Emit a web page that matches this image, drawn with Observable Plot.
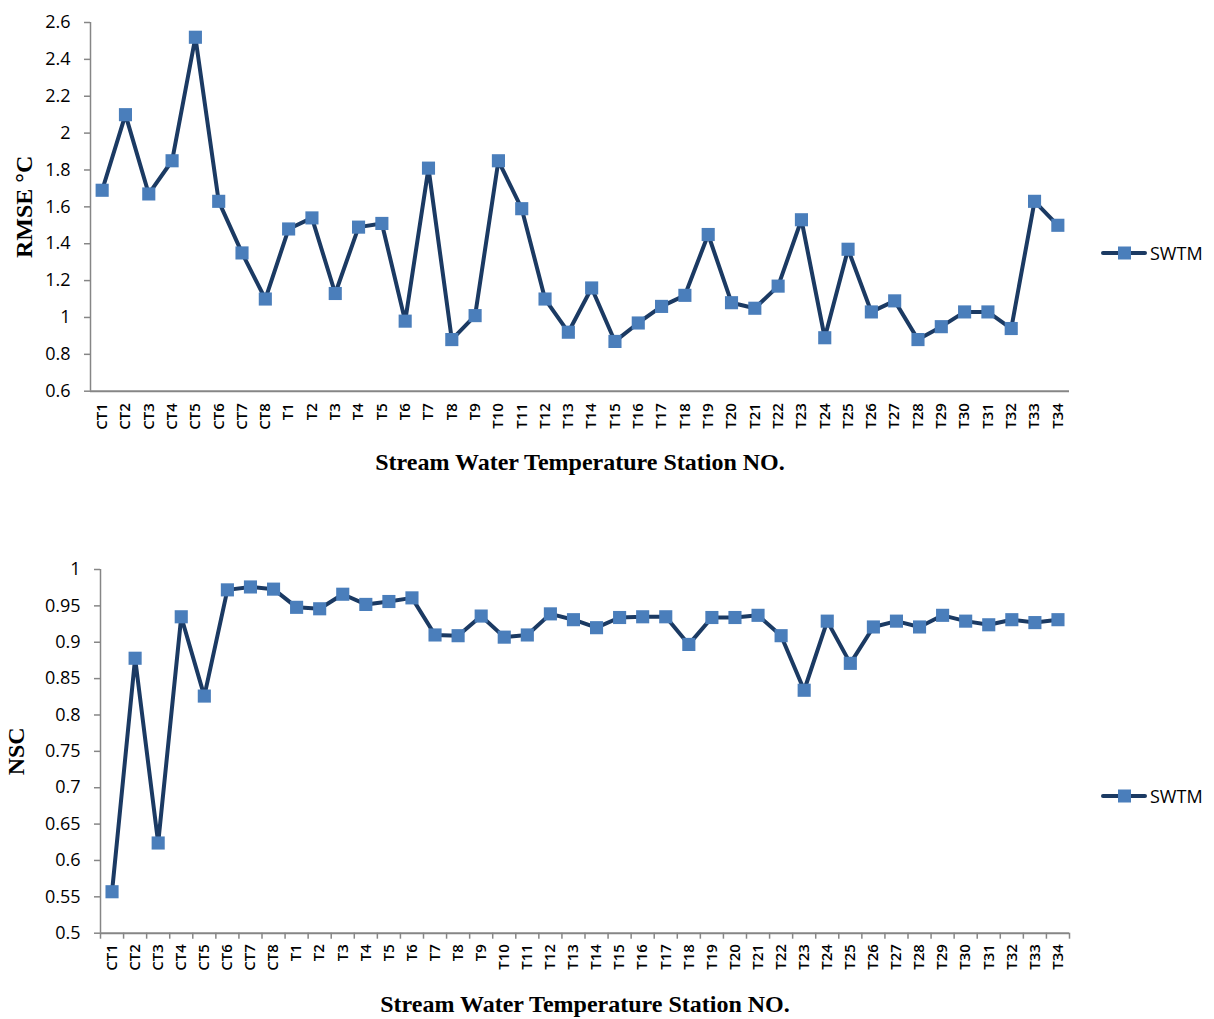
<!DOCTYPE html>
<html>
<head>
<meta charset="utf-8">
<script src="https://cdn.jsdelivr.net/npm/d3@7"></script>
<script src="https://cdn.jsdelivr.net/npm/@observablehq/plot@0.6"></script>
<style>
  body { margin: 0; background: #fff; }
  #fig { position: relative; width: 1214px; height: 1019px; background: #fff; }
  #fig > svg { position: absolute; left: 0; }
  .legend { position: absolute; left: 1101px; display: flex; align-items: center;
            font-family: "Open Sans", sans-serif; font-size: 18px; color: #000; }
  .legend span { margin-left: 3px; }
</style>
</head>
<body>
<div id="fig"></div>
<script>
// Station names along the x axis
const stations = ["CT1", "CT2", "CT3", "CT4", "CT5", "CT6", "CT7", "CT8",
  "T1", "T2", "T3", "T4", "T5", "T6", "T7", "T8", "T9", "T10",
  "T11", "T12", "T13", "T14", "T15", "T16", "T17", "T18", "T19", "T20",
  "T21", "T22", "T23", "T24", "T25", "T26", "T27", "T28", "T29", "T30",
  "T31", "T32", "T33", "T34"];

// Root mean square error (°C) of the SWTM model per station
const rmse = [1.69, 2.10, 1.67, 1.85, 2.52, 1.63, 1.35, 1.10,
  1.48, 1.54, 1.13, 1.49, 1.51, 0.98, 1.81, 0.88, 1.01, 1.85,
  1.59, 1.10, 0.92, 1.16, 0.87, 0.97, 1.06, 1.12, 1.45, 1.08,
  1.05, 1.17, 1.53, 0.89, 1.37, 1.03, 1.09, 0.88, 0.95, 1.03,
  1.03, 0.94, 1.63, 1.50];

// Nash–Sutcliffe coefficient of the SWTM model per station
const nsc = [0.557, 0.878, 0.624, 0.935, 0.826, 0.972, 0.976, 0.973,
  0.948, 0.946, 0.966, 0.952, 0.956, 0.961, 0.910, 0.909, 0.936, 0.907,
  0.910, 0.939, 0.931, 0.920, 0.934, 0.935, 0.935, 0.897, 0.934, 0.934,
  0.937, 0.909, 0.834, 0.929, 0.871, 0.921, 0.929, 0.921, 0.937, 0.929,
  0.924, 0.931, 0.927, 0.931];

// y tick values
const rmseTicks = [0.6, 0.8, 1, 1.2, 1.4, 1.6, 1.8, 2, 2.2, 2.4, 2.6];
const nscTicks = [0.5, 0.55, 0.6, 0.65, 0.7, 0.75, 0.8, 0.85, 0.9, 0.95, 1];

const seriesName = "SWTM";
const xTitle = "Stream Water Temperature Station NO.";

const LINE = "#1B3A63";
const MARK = "#4A7EBB";
const AXIS = "#868686";
const SANS = "'Open Sans', sans-serif";
const SERIF = "'Liberation Serif', 'Times New Roman', serif";

const idx = d3.range(stations.length);
const xDomain = [-0.5, stations.length - 0.5];
const boundaries = d3.range(stations.length + 1).map(i => i - 0.5);
const fmt = d => String(+d.toFixed(2));

function chart({values, yDomain, yTicks, yTitle, height, marginLeft, marginTop, marginBottom, boundaryTicks, yTitleDx}) {
  return Plot.plot({
    width: 1214,
    height,
    marginLeft,
    marginRight: 145,
    marginTop,
    marginBottom,
    style: {fontFamily: SANS, color: "#000", background: "#fff", overflow: "visible"},
    x: {domain: xDomain},
    y: {domain: yDomain},
    marks: [
      Plot.axisY({ticks: yTicks, tickFormat: fmt, tickSize: 6, tickPadding: 14,
        fontSize: 18, stroke: AXIS, strokeWidth: 1.5, label: null}),
      Plot.axisX({ticks: idx, tickFormat: i => stations[i], tickSize: 0, tickRotate: -90,
        tickPadding: boundaryTicks ? 11 : 12, fontSize: 15, fontWeight: 600, label: null}),
      boundaryTicks
        ? Plot.axisX({ticks: boundaries, tickFormat: () => "", tickSize: 6,
            stroke: AXIS, strokeWidth: 1.5, label: null})
        : null,
      Plot.ruleX([xDomain[0]], {stroke: AXIS, strokeWidth: 1.5}),
      Plot.ruleY([yDomain[0]], {stroke: AXIS, strokeWidth: 2}),
      Plot.text([yTitle], {frameAnchor: "left", rotate: -90, dx: yTitleDx,
        textAnchor: "middle", lineAnchor: "middle",
        fontSize: 24, fontWeight: "bold", fontFamily: SERIF, fill: "#000"}),
      Plot.text([xTitle], {frameAnchor: "bottom", dy: 71.6,
        textAnchor: "middle", lineAnchor: "middle",
        fontSize: 24, fontWeight: "bold", fontFamily: SERIF, fill: "#000"}),
      Plot.line(idx, {x: i => i, y: i => values[i], stroke: LINE, strokeWidth: 4,
        strokeLinejoin: "round"}),
      Plot.dot(idx, {x: i => i, y: i => values[i], symbol: "square", r: 7.4,
        fill: MARK, stroke: null})
    ]
  });
}

function legend(top) {
  const div = document.createElement("div");
  div.className = "legend";
  div.style.top = (top - 12) + "px";
  div.innerHTML =
    `<svg width="46" height="24"><line x1="2" x2="44" y1="12" y2="12" stroke="${LINE}" stroke-width="4" stroke-linecap="round"/>` +
    `<rect x="17" y="5.5" width="13" height="13" fill="${MARK}"/></svg><span>${seriesName}</span>`;
  return div;
}

const fig = document.getElementById("fig");

const top1 = chart({values: rmse, yDomain: [0.6, 2.6], yTicks: rmseTicks, yTitle: "RMSE °C",
  height: 500, marginLeft: 90, marginTop: 22, marginBottom: 109.3, boundaryTicks: false, yTitleDx: -66});
top1.style.top = "0px";
fig.appendChild(top1);

const bottom = chart({values: nsc, yDomain: [0.5, 1], yTicks: nscTicks, yTitle: "NSC",
  height: 519, marginLeft: 100, marginTop: 69, marginBottom: 86.3, boundaryTicks: true, yTitleDx: -84});
bottom.style.top = "500px";
fig.appendChild(bottom);

fig.appendChild(legend(253));
fig.appendChild(legend(796));
</script>
</body>
</html>
